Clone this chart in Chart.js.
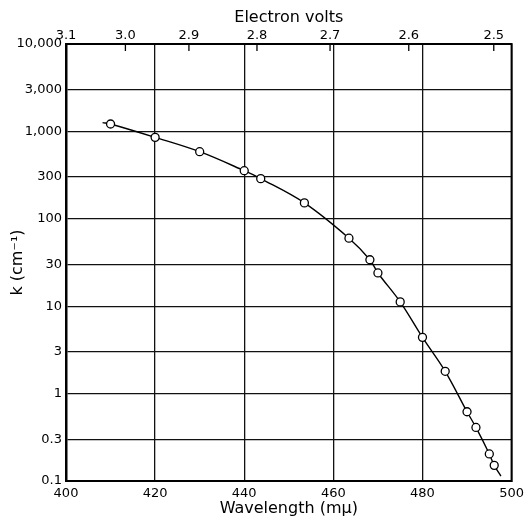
<!DOCTYPE html>
<html>
<head>
<meta charset="utf-8">
<script src="https://cdn.jsdelivr.net/npm/chart.js@4/dist/chart.umd.min.js"></script>
<style>
html,body{margin:0;padding:0;background:#fff;}
canvas{display:block;}
</style>
</head>
<body>
<canvas id="c" width="529" height="523"></canvas>
<script>
// ---- data ----
const wavelength = [410, 420, 430, 440, 443.7, 453.5, 463.5, 468.2, 470, 475, 480, 485.1, 490, 492, 495, 496.1];
const kValues    = [1216, 855, 586, 355, 288, 152, 60, 34, 24, 11.2, 4.4, 1.8, 0.62, 0.41, 0.204, 0.151];
const curveStart = [408.2, 1260];
const curveEnd   = [497.6, 0.114];
const yTickValues = [0.1, 0.3, 1, 3, 10, 30, 100, 300, 1000, 3000, 10000];
const yTickLabels = ['0.1', '0.3', '1', '3', '10', '30', '100', '300', '1,000', '3,000', '10,000'];
const eVTicks = [3.1, 3.0, 2.9, 2.8, 2.7, 2.6, 2.5];
const eVLabels = ['3.1', '3.0', '2.9', '2.8', '2.7', '2.6', '2.5'];
const HC = 1240; // eV*nm

const pts = wavelength.map((x, i) => ({x: x, y: kValues[i]}));
const curvePts = [{x: curveStart[0], y: curveStart[1]}].concat(pts, [{x: curveEnd[0], y: curveEnd[1]}]);

const FONT = 'DejaVu Sans';

const framePlugin = {
  id: 'frame',
  afterDraw(chart) {
    const {ctx, chartArea: a} = chart;
    ctx.save();
    ctx.strokeStyle = '#000';
    ctx.lineWidth = 2;
    ctx.strokeRect(a.left, a.top, a.right - a.left, a.bottom - a.top);
    // inward ticks of the top (electron volt) axis
    const s = chart.scales.x2;
    ctx.lineWidth = 1.3;
    s.ticks.forEach((t, i) => {
      if (i === 0) return;
      const px = s.getPixelForValue(t.value);
      ctx.beginPath();
      ctx.moveTo(px, a.top);
      ctx.lineTo(px, a.top + 7);
      ctx.stroke();
    });
    ctx.restore();
  }
};

new Chart(document.getElementById('c'), {
  type: 'scatter',
  data: {
    datasets: [
      {
        label: 'points',
        data: pts,
        showLine: false,
        pointRadius: 4,
        pointBorderWidth: 1.3,
        pointBackgroundColor: '#fff',
        pointBorderColor: '#000',
        order: 0
      },
      {
        label: 'curve',
        data: curvePts,
        showLine: true,
        borderColor: '#000',
        borderWidth: 1.4,
        pointRadius: 0,
        tension: 0.35,
        fill: false,
        order: 1
      }
    ]
  },
  options: {
    responsive: false,
    devicePixelRatio: 1,
    animation: false,
    layout: {padding: {left: 0, right: 14, top: 0, bottom: 0}},
    plugins: {legend: {display: false}, tooltip: {enabled: false}},
    scales: {
      x: {
        type: 'linear',
        position: 'bottom',
        min: 400, max: 500,
        ticks: {stepSize: 20, color: '#000', padding: 5, font: {family: FONT, size: 13}},
        grid: {color: '#111', lineWidth: 1.3, drawTicks: false},
        border: {display: true, color: '#000', width: 2},
        title: {display: true, text: 'Wavelength (m\u03bc)', color: '#000', font: {family: FONT, size: 16}, padding: {top: 0, bottom: 5}},
        afterFit(s) { s.height = 42; }
      },
      x2: {
        type: 'linear',
        position: 'top',
        min: 400, max: 500,
        afterBuildTicks(s) { s.ticks = eVTicks.map(v => ({value: HC / v})); },
        ticks: {
          color: '#000', padding: 1, font: {family: FONT, size: 13},
          callback: (v, i) => eVLabels[i]
        },
        grid: {drawOnChartArea: false, drawTicks: false},
        border: {display: true, color: '#000', width: 2},
        title: {display: true, text: 'Electron volts', color: '#000', font: {family: FONT, size: 16}, padding: {top: 8, bottom: 0}},
        afterFit(s) { s.height = 44; }
      },
      y: {
        type: 'logarithmic',
        position: 'left',
        min: 0.1, max: 10000,
        afterBuildTicks(s) { s.ticks = yTickValues.map(v => ({value: v})); },
        ticks: {
          color: '#000', padding: 4, font: {family: FONT, size: 13},
          callback: (v, i) => yTickLabels[i]
        },
        grid: {color: '#111', lineWidth: 1.3, drawTicks: false},
        border: {display: true, color: '#000', width: 2.5},
        title: {display: true, text: 'k (cm\u207b\u00b9)', color: '#000', font: {family: FONT, size: 16}, padding: {top: 8, bottom: 0}},
        afterFit(s) { s.width = 66; }
      }
    }
  },
  plugins: [framePlugin]
});
</script>
</body>
</html>
